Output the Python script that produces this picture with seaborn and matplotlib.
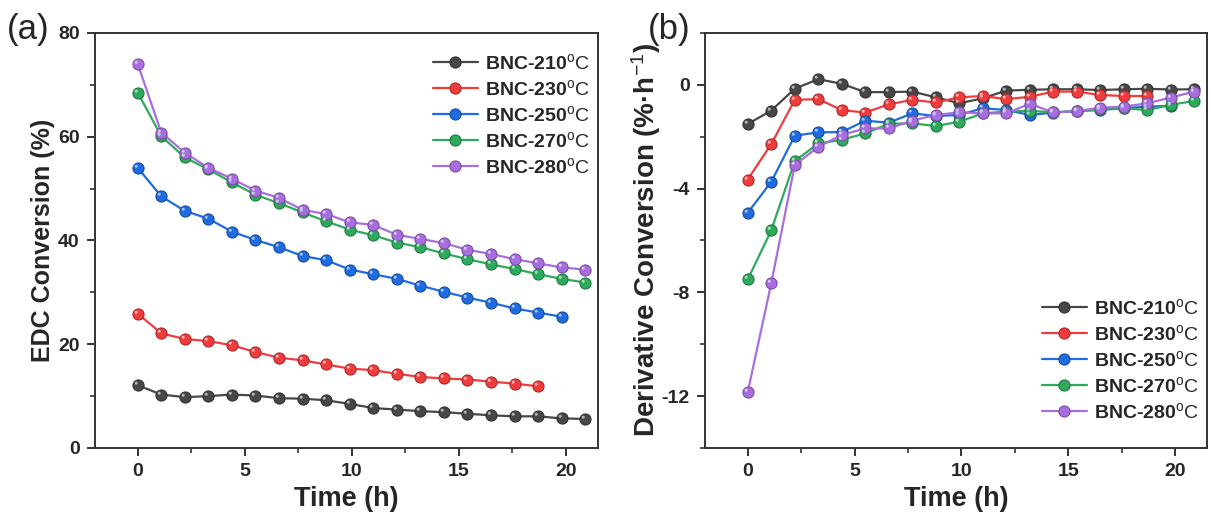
import numpy as np
import pandas as pd
import matplotlib
matplotlib.use("Agg")
import matplotlib.pyplot as plt
from matplotlib.path import Path
from matplotlib.ticker import MultipleLocator
import seaborn as sns

# ---------------- data ----------------
time_h = [0, 1.1, 2.2, 3.3, 4.4, 5.5, 6.6, 7.7, 8.8, 9.9, 11.0, 12.1, 13.2,
          14.3, 15.4, 16.5, 17.6, 18.7, 19.8, 20.9]
series_names = ["BNC-210", "BNC-230", "BNC-250", "BNC-270", "BNC-280"]

conv_210 = [12.1, 10.3, 9.8, 10.0, 10.3, 10.1, 9.6, 9.5, 9.2, 8.5, 7.7, 7.4,
            7.1, 6.9, 6.6, 6.3, 6.1, 6.1, 5.7, 5.6]
conv_230 = [25.9, 22.1, 21.0, 20.6, 19.8, 18.5, 17.4, 16.9, 16.1, 15.3, 15.0,
            14.3, 13.7, 13.4, 13.2, 12.8, 12.4, 11.9]
conv_250 = [54.0, 48.5, 45.7, 44.2, 41.7, 40.1, 38.7, 37.0, 36.2, 34.4, 33.5,
            32.6, 31.3, 30.1, 29.0, 28.0, 26.9, 26.1, 25.3]
conv_270 = [68.5, 60.1, 56.0, 53.7, 51.2, 48.8, 47.2, 45.4, 43.7, 42.1, 41.0,
            39.6, 38.7, 37.5, 36.4, 35.4, 34.5, 33.5, 32.6, 31.9]
conv_280 = [74.0, 60.8, 56.9, 54.0, 51.9, 49.6, 48.2, 45.9, 45.1, 43.5, 43.0,
            41.1, 40.3, 39.5, 38.2, 37.4, 36.4, 35.6, 34.8, 34.4]

deriv_210 = [-1.51, -0.99, -0.15, 0.22, 0.04, -0.28, -0.28, -0.26, -0.48, -0.71,
             -0.52, -0.22, -0.19, -0.17, -0.17, -0.20, -0.17, -0.15, -0.18, -0.17]
deriv_230 = [-3.65, -2.28, -0.58, -0.55, -0.97, -1.07, -0.75, -0.58, -0.68,
             -0.48, -0.43, -0.55, -0.46, -0.26, -0.26, -0.39, -0.43, -0.43]
deriv_250 = [-4.93, -3.74, -1.96, -1.83, -1.82, -1.38, -1.46, -1.10, -1.20,
             -1.16, -0.90, -0.97, -1.16, -1.07, -1.01, -0.97, -0.90, -0.84, -0.81]
deriv_270 = [-7.50, -5.61, -2.94, -2.26, -2.12, -1.87, -1.50, -1.48, -1.59,
             -1.42, -1.10, -1.03, -1.00, -1.06, -1.01, -0.94, -0.90, -0.97,
             -0.77, -0.62]
deriv_280 = [-11.84, -7.65, -3.09, -2.39, -1.93, -1.68, -1.68, -1.38, -1.16,
             -1.06, -1.10, -1.10, -0.73, -1.06, -1.01, -0.88, -0.84, -0.71,
             -0.49, -0.26]

conv_series = [conv_210, conv_230, conv_250, conv_270, conv_280]
deriv_series = [deriv_210, deriv_230, deriv_250, deriv_270, deriv_280]
colors = ["#474747", "#f03c3c", "#1f6be0", "#2eaa5c", "#a86ee0"]

# ---------------- style ----------------
sns.set_style("ticks")
plt.rcParams["font.family"] = ["Liberation Sans", "DejaVu Sans"]
plt.rcParams["mathtext.fontset"] = "custom"
plt.rcParams["mathtext.rm"] = "Liberation Sans"
plt.rcParams["mathtext.it"] = "Liberation Sans:italic"
plt.rcParams["mathtext.bf"] = "Liberation Sans:bold"
plt.rcParams["axes.unicode_minus"] = False

fig = plt.figure(figsize=(12.11, 5.17), dpi=100)
ax_a = fig.add_axes([0.0784, 0.1335, 0.4154, 0.8027])
ax_b = fig.add_axes([0.5822, 0.1335, 0.4145, 0.8027])

# highlight marker: small circle offset to the upper-left (sphere glint)
theta = np.linspace(0, 2 * np.pi, 40)
glint = Path(np.column_stack([-0.3 + 0.2 * np.cos(theta),
                              0.3 + 0.2 * np.sin(theta)]), closed=True)


def darker(c, f=0.72):
    r, g, b = matplotlib.colors.to_rgb(c)
    return (r * f, g * f, b * f)


def lighter(c, f=0.6):
    r, g, b = matplotlib.colors.to_rgb(c)
    return (r + (1 - r) * f, g + (1 - g) * f, b + (1 - b) * f)


def draw(ax, series):
    for name, vals, col in zip(series_names, series, colors):
        df = pd.DataFrame({"t": time_h[:len(vals)], "v": vals})
        sns.lineplot(data=df, x="t", y="v", ax=ax, color=col, lw=1.6,
                     marker="o", markersize=8, markerfacecolor=col,
                     markeredgecolor=darker(col), markeredgewidth=0.8,
                     label=name + r"$^{\mathrm{o}}\mathrm{C}$", sort=False)
        ax.plot(df["t"], df["v"], ls="none", marker=glint, markersize=5.5,
                color=lighter(col), markeredgewidth=0, zorder=5)


draw(ax_a, conv_series)
draw(ax_b, deriv_series)

for ax in (ax_a, ax_b):
    ax.set_xlim(-2, 21.5)
    ax.xaxis.set_major_locator(MultipleLocator(5))
    ax.xaxis.set_minor_locator(MultipleLocator(2.5))
    ax.tick_params(which="major", direction="out", length=6, width=1.4,
                   top=False, right=False, pad=5, color="#333333")
    ax.tick_params(which="minor", direction="out", length=3.5, width=1.2,
                   top=False, right=False, color="#333333")
    for sp in ax.spines.values():
        sp.set_visible(True)
        sp.set_linewidth(1.4)
        sp.set_color("#333333")
    ax.set_xlabel("Time (h)", labelpad=4, fontsize=19.5, fontweight="bold")

ax_a.set_ylim(0, 80)
ax_a.yaxis.set_major_locator(MultipleLocator(20))
ax_a.yaxis.set_minor_locator(MultipleLocator(10))
ax_a.set_ylabel("EDC Conversion (%)", labelpad=2, fontsize=18,
                fontweight="bold")

ax_b.set_ylim(-14, 2)
ax_b.set_yticks([0, -4, -8, -12])
ax_b.yaxis.set_minor_locator(MultipleLocator(2))
ax_b.set_ylabel(r"Derivative Conversion (%·h$^{\mathrm{-1}}$)", labelpad=-1,
                fontsize=20, fontweight="bold")

for ax in (ax_a, ax_b):
    for lab in ax.get_xticklabels() + ax.get_yticklabels():
        lab.set_fontsize(14)
        lab.set_fontweight("bold")

leg_kw = dict(frameon=False, prop={"weight": "bold", "size": 14},
              handlelength=2.3, labelspacing=0.3, handletextpad=0.4,
              borderpad=0.1, borderaxespad=0.3)
ax_a.legend(loc="upper right", bbox_to_anchor=(1.0, 0.97), **leg_kw)
ax_b.legend(loc="lower right", bbox_to_anchor=(1.0, 0.045), **leg_kw)

fig.text(0.006, 0.975, "(a)", fontsize=25, ha="left", va="top")
fig.text(0.535, 0.975, "(b)", fontsize=25, ha="left", va="top")

fig.savefig("out.png", dpi=100)
